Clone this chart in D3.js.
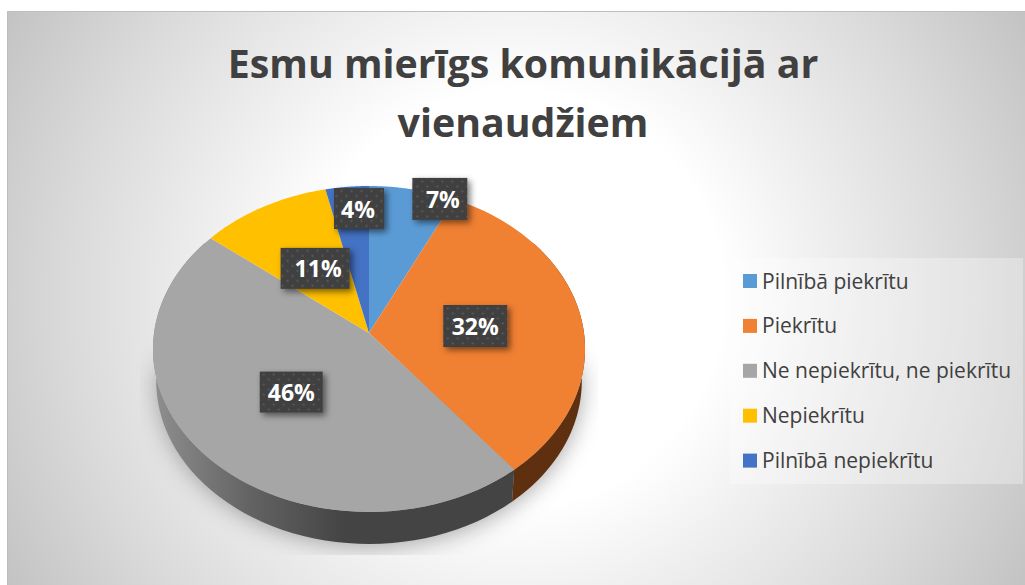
<!DOCTYPE html>
<html><head><meta charset="utf-8">
<script src="https://cdn.jsdelivr.net/npm/d3@7"></script>
<style>html,body{margin:0;padding:0;background:#fff;overflow:hidden}svg{display:block}</style>
</head><body><svg id="c" width="1025" height="585"></svg>
<script>
const titleLines = ["Esmu mierīgs komunikācijā ar", "vienaudžiem"];
const categories = ["Pilnībā piekrītu", "Piekrītu", "Ne nepiekrītu, ne piekrītu", "Nepiekrītu", "Pilnībā nepiekrītu"];
const values = [7.14, 32.14, 46.43, 10.71, 3.57];
const colors = ["#5B9BD5", "#F08032", "#A6A6A6", "#FFC000", "#4472C4"];

const W = 1025, H = 585;
const svg = d3.select("#c");
const defs = svg.append("defs");

// perspective pie geometry
const cx = 369, cy = 333, Ax = 215, Ay = 161.4, k = 0.098, depth = 32;
const proj = (a, r = 1) => {
  const u = Math.sin(a) * r, v = -Math.cos(a) * r, d = 1 - k * v;
  return [cx + Ax * u / d, cy + Ay * v / d];
};
const projLow = (a) => {
  const [x, y] = proj(a);
  return [cx + (x - cx) * 0.985, y + depth];
};
const line = d3.line();
const arcSamples = (a0, a1) => d3.range(0, 61).map(i => a0 + (a1 - a0) * i / 60);

// background
const bg = defs.append("radialGradient").attr("id", "bg").attr("gradientUnits", "userSpaceOnUse")
  .attr("cx", 516).attr("cy", 298).attr("r", 590);
[[0, "#ffffff"], [0.35, "#ffffff"], [0.5, "#f1f1f1"], [0.76, "#dadada"], [1, "#c2c2c2"]].forEach(([o, c]) =>
  bg.append("stop").attr("offset", o).attr("stop-color", c));
svg.append("rect").attr("x", 7).attr("y", 11).attr("width", W - 7).attr("height", H - 11).attr("fill", "url(#bg)");
svg.append("path").attr("d", `M7.5 ${H}V11.5H${W}`).attr("fill", "none").attr("stroke", "#bdbdbd").attr("stroke-width", 1);

// title
svg.append("g").selectAll("text").data(titleLines).join("text")
  .attr("x", 523).attr("y", (d, i) => 78 + i * 59).attr("text-anchor", "middle")
  .attr("font-family", "'Open Sans'").attr("font-weight", 700).attr("font-size", 39.3)
  .attr("fill", "#404040").text(d => d);

// shadow under the pie
defs.append("filter").attr("id", "blur").attr("x", "-20%").attr("y", "-20%").attr("width", "140%").attr("height", "140%")
  .append("feGaussianBlur").attr("stdDeviation", 11);
defs.append("clipPath").attr("id", "shClip").append("rect").attr("x", 140).attr("y", 340).attr("width", 458).attr("height", 215);
const fade = defs.append("linearGradient").attr("id", "fade").attr("x1", 0).attr("x2", 0).attr("y1", 0).attr("y2", 1);
[[0, 0], [0.2, 1], [1, 1]].forEach(([o, a]) => fade.append("stop").attr("offset", o).attr("stop-color", "#fff").attr("stop-opacity", a));
defs.append("mask").attr("id", "shMask").attr("maskUnits", "userSpaceOnUse").attr("x", 140).attr("y", 340).attr("width", 458).attr("height", 215)
  .append("rect").attr("x", 140).attr("y", 340).attr("width", 458).attr("height", 215).attr("fill", "url(#fade)");
const circle = arcSamples(0, 2 * Math.PI);
svg.append("g").attr("clip-path", "url(#shClip)").attr("mask", "url(#shMask)")
  .append("path").attr("d", line(circle.map(a => { const p = projLow(a); return [p[0], p[1] + 3]; })) + "Z")
  .attr("fill", "#8c8c8c").attr("opacity", 0.75).attr("filter", "url(#blur)");

// slices
const pie = d3.pie().sort(null).value(d => d);
const arcs = pie(values);
const color = d3.scaleOrdinal().domain(categories).range(colors);

// side wall (the part behind the top face is hidden by it)
const sideGrad = defs.append("linearGradient").attr("id", "sideGray").attr("gradientUnits", "userSpaceOnUse")
  .attr("x1", 155).attr("x2", 345).attr("y1", 0).attr("y2", 0);
[[0, "#8e8e8e"], [0.5, "#636363"], [1, "#444444"]].forEach(([o, c]) => sideGrad.append("stop").attr("offset", o).attr("stop-color", c));
const sideFill = i => i === 1 ? "#5f3010" : i === 2 ? "url(#sideGray)" : d3.color(colors[i]).darker(1.6);
svg.append("g").selectAll("path").data(arcs).join("path")
  .attr("d", d => {
    const a0 = Math.max(d.startAngle, Math.PI * 0.3), a1 = Math.min(d.endAngle, Math.PI * 1.7);
    if (a1 <= a0) return null;
    const s = arcSamples(a0, a1);
    return line(s.map(a => proj(a)).concat(s.slice().reverse().map(projLow))) + "Z";
  })
  .attr("fill", (d, i) => sideFill(i));

// top face
svg.append("g").selectAll("path").data(arcs).join("path")
  .attr("d", d => line([[cx, cy]].concat(arcSamples(d.startAngle, d.endAngle).map(a => proj(a)))) + "Z")
  .attr("fill", (d, i) => color(categories[i]));

// data labels
const pat = defs.append("pattern").attr("id", "dots").attr("patternUnits", "userSpaceOnUse").attr("width", 10).attr("height", 10);
pat.append("rect").attr("width", 10).attr("height", 10).attr("fill", "#404040");
[[2.5, 2.5], [7.5, 7.5]].forEach(([x, y]) => pat.append("circle").attr("cx", x).attr("cy", y).attr("r", 1.1).attr("fill", "#5c5c5c"));
const sh = defs.append("filter").attr("id", "lblShadow").attr("x", "-30%").attr("y", "-30%").attr("width", "160%").attr("height", "160%");
sh.append("feDropShadow").attr("dx", 3).attr("dy", 3).attr("stdDeviation", 3).attr("flood-color", "#000").attr("flood-opacity", 0.5);
const labelNudge = [[48, -59], [0, 2], [1, 0], [1, 1], [1.5, -48]];
const boxSizes = [[55, 42], [64, 42], [63, 41], [69, 41], [50, 41]];
const textNudge = [3, 0, 0, 3, -1];
const lab = svg.append("g").selectAll("g").data(arcs).join("g")
  .attr("transform", (d, i) => {
    const p = proj((d.startAngle + d.endAngle) / 2, 0.5);
    return `translate(${p[0] + labelNudge[i][0]},${p[1] + labelNudge[i][1]})`;
  });
lab.append("rect")
  .attr("x", (d, i) => -boxSizes[i][0] / 2).attr("y", (d, i) => -boxSizes[i][1] / 2)
  .attr("width", (d, i) => boxSizes[i][0]).attr("height", (d, i) => boxSizes[i][1])
  .attr("fill", "url(#dots)").attr("filter", "url(#lblShadow)");
lab.append("text").attr("text-anchor", "middle").attr("x", (d, i) => textNudge[i]).attr("y", 9)
  .attr("font-family", "'Open Sans'").attr("font-weight", 700).attr("font-size", 23).attr("fill", "#fff")
  .text(d => Math.round(d.value) + "%");

// legend
svg.append("rect").attr("x", 730).attr("y", 258).attr("width", 293).attr("height", 226).attr("fill", "#fff").attr("opacity", 0.3);
const leg = svg.append("g").selectAll("g").data(categories).join("g")
  .attr("transform", (d, i) => `translate(743,${281 + i * 44.9})`);
leg.append("rect").attr("y", -7).attr("width", 14).attr("height", 14).attr("fill", d => color(d));
leg.append("text").attr("x", 19).attr("y", 7.5)
  .attr("font-family", "'Open Sans'").attr("font-size", 21).attr("fill", "#404040").text(d => d);
</script></body></html>
